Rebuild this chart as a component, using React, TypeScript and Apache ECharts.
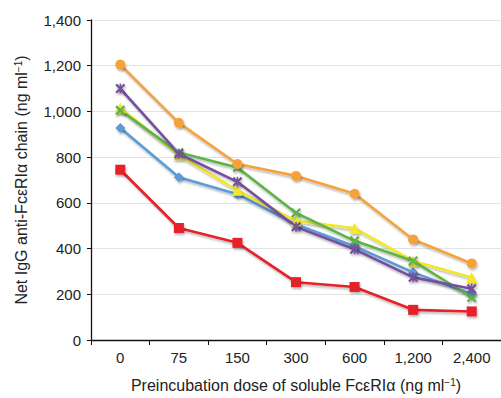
import React, { useEffect, useRef } from "react";
import * as echarts from "echarts";

const categories = ["0", "75", "150", "300", "600", "1,200", "2,400"];
const orangeValues = [1205, 950, 770, 718, 640, 440, 335];
const purpleValues = [1100, 815, 692, 495, 397, 274, 224];
const yellowValues = [1015, 810, 655, 521, 489, 346, 273];
const greenValues = [1005, 820, 755, 556, 434, 346, 186];
const blueValues = [928, 712, 638, 505, 410, 296, 200];
const redValues = [745, 490, 425, 253, 232, 132, 125];
const yTicks = [0, 200, 400, 600, 800, 1000, 1200, 1400];

const X_PATH =
  "path://M0,1.6 L1.6,0 L5,3.4 L8.4,0 L10,1.6 L6.6,5 L10,8.4 L8.4,10 L5,6.6 L1.6,10 L0,8.4 L3.4,5 Z";
const STAR_PATH =
  "path://M0,1.6 L1.6,0 L5,3.4 L8.4,0 L10,1.6 L6.6,5 L10,8.4 L8.4,10 L5,6.6 L1.6,10 L0,8.4 L3.4,5 Z M4.2,0 L5.8,0 L5.8,10 L4.2,10 Z";

const FONT = "'Liberation Sans', Arial, sans-serif";

function fmt(v: number) {
  return v.toLocaleString("en-US");
}

function mkSeries(name: string, data: number[], color: string, symbol: string, size: number) {
  return {
    name,
    type: "line",
    data,
    symbol,
    symbolSize: size,
    showAllSymbol: true,
    lineStyle: {
      color,
      width: 2.6,
      shadowColor: "rgba(0,0,0,0.28)",
      shadowBlur: 2,
      shadowOffsetX: 1,
      shadowOffsetY: 2,
    },
    itemStyle: {
      color,
      shadowColor: "rgba(0,0,0,0.28)",
      shadowBlur: 2,
      shadowOffsetX: 1,
      shadowOffsetY: 2,
    },
  };
}

const supStyle = { fontSize: 10, fontFamily: FONT, color: "#222", verticalAlign: "top", lineHeight: 10 };

export default function App() {
  const ref = useRef<HTMLDivElement>(null);
  useEffect(() => {
    if (!ref.current) return;
    const chart = echarts.init(ref.current, null, { renderer: "svg" });
    chart.setOption({
      animation: false,
      backgroundColor: "#ffffff",
      grid: { left: 91, top: 20, width: 413, bottom: 57, containLabel: false },
      xAxis: {
        type: "category",
        data: categories,
        boundaryGap: true,
        axisLine: { lineStyle: { color: "#111", width: 1.3 } },
        axisTick: { show: true, length: 5, inside: false, alignWithLabel: false, lineStyle: { color: "#111" } },
        axisLabel: { color: "#222", fontSize: 15, fontFamily: FONT, margin: 10, interval: 0 },
        name: "Preincubation dose of soluble Fc\u03B5RI\u03B1 (ng ml{sup|\u22121})",
        nameLocation: "middle",
        nameGap: 37,
        nameTextStyle: {
          color: "#222",
          fontSize: 16,
          fontFamily: FONT,
          rich: { sup: supStyle },
        },
        splitLine: { show: false },
      },
      yAxis: {
        type: "value",
        min: 0,
        max: 1400,
        interval: 200,
        axisLine: { show: true, lineStyle: { color: "#111", width: 1.3 } },
        axisTick: { show: true, length: 4, inside: false, lineStyle: { color: "#111" } },
        axisLabel: {
          color: "#222",
          fontSize: 15,
          fontFamily: FONT,
          margin: 10,
          formatter: (v: number) => (yTicks.includes(v) ? fmt(v) : ""),
        },
        splitLine: { show: true, lineStyle: { color: "#e2e2e2", width: 1 } },
        name: "Net IgG anti-Fc\u03B5RI\u03B1 chain (ng ml{sup|\u22121})",
        nameLocation: "middle",
        nameGap: 62,
        nameTextStyle: {
          color: "#222",
          fontSize: 16,
          fontFamily: FONT,
          rich: { sup: supStyle },
        },
      },
      series: [
        mkSeries("blue", blueValues, "#5b9bd5", "diamond", 10),
        mkSeries("yellow", yellowValues, "#f2e829", "triangle", 11),
        mkSeries("green", greenValues, "#5cb347", X_PATH, 10),
        mkSeries("purple", purpleValues, "#7450a0", STAR_PATH, 10),
        mkSeries("orange", orangeValues, "#f5a23a", "circle", 10),
        mkSeries("red", redValues, "#e5202b", "rect", 10),
      ],
    });
    return () => chart.dispose();
  }, []);
  return <div ref={ref} style={{ width: 501, height: 398, position: "absolute", left: 0, top: 0 }} />;
}
